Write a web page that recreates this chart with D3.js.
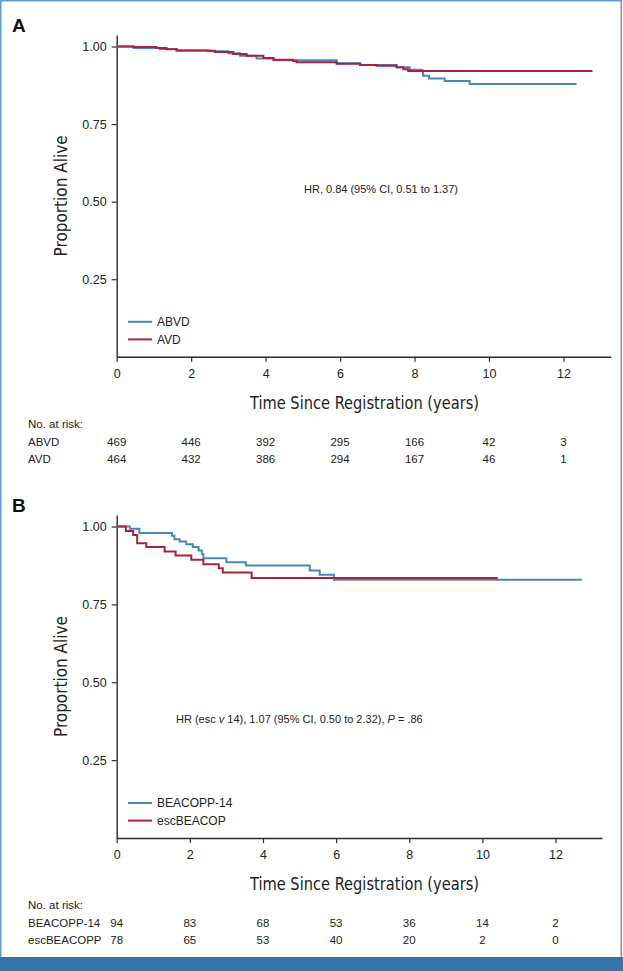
<!DOCTYPE html>
<html><head><meta charset="utf-8">
<script src="https://cdn.jsdelivr.net/npm/d3@7"></script>
<style>
html,body{margin:0;padding:0;background:#fff;}
svg{display:block;font-family:"Liberation Sans",Arial,sans-serif;}
</style></head>
<body><svg id="c" width="623" height="971"></svg>
<script>
// ---- Data ----
const xTicks = [0, 2, 4, 6, 8, 10, 12];
const yTicks = [0.25, 0.50, 0.75, 1.00];

// Panel A
const seriesA = ["ABVD", "AVD"];
const timeABVD = [0, 0.45, 1.16, 1.61, 2.5, 3.0, 3.31, 3.76, 4.21, 5.91, 6.54, 7.52, 7.87, 8.19, 8.23, 8.39, 8.81, 9.48, 12.35];
const survABVD = [1, 0.995, 0.992, 0.987, 0.985, 0.978, 0.970, 0.961, 0.956, 0.946, 0.940, 0.933, 0.925, 0.923, 0.906, 0.897, 0.889, 0.879, 0.879];
const timeAVD = [0, 0.45, 1.07, 1.34, 1.61, 2.42, 2.64, 3.13, 3.49, 3.94, 4.21, 4.74, 4.83, 5.91, 6.54, 6.98, 7.52, 7.70, 7.83, 12.78];
const survAVD = [1, 0.998, 0.995, 0.991, 0.987, 0.986, 0.982, 0.976, 0.970, 0.963, 0.957, 0.953, 0.949, 0.944, 0.940, 0.938, 0.933, 0.927, 0.921, 0.921];
const riskABVD = [469, 446, 392, 295, 166, 42, 3];
const riskAVD = [464, 432, 386, 294, 167, 46, 1];

// Panel B
const seriesB = ["BEACOPP-14", "escBEACOP"];
const riskLabelsB = ["BEACOPP-14", "escBEACOPP"];
const timeB14 = [0, 0.36, 0.62, 1.51, 1.58, 1.72, 1.90, 2.08, 2.24, 2.33, 2.37, 3.00, 3.53, 5.28, 5.55, 5.94, 12.72];
const survB14 = [1, 0.9925, 0.979, 0.970, 0.959, 0.952, 0.943, 0.934, 0.923, 0.912, 0.898, 0.885, 0.875, 0.859, 0.845, 0.829, 0.829];
const timeEsc = [0, 0.25, 0.45, 0.56, 0.81, 1.31, 1.61, 2.04, 2.37, 2.79, 2.90, 3.69, 10.42];
const survEsc = [1, 0.986, 0.973, 0.946, 0.934, 0.920, 0.907, 0.893, 0.879, 0.866, 0.852, 0.835, 0.835];
const riskB14 = [94, 83, 68, 53, 36, 14, 2];
const riskEsc = [78, 65, 53, 40, 20, 2, 0];

const BLUE = "#4a86bf", RED = "#a6233f", AX = "#2b2b2b";

const svg = d3.select("#c");

// frame + bottom bar
svg.append("rect").attr("x", 0.75).attr("y", 0.75).attr("width", 620.5).attr("height", 960)
  .attr("fill", "none").attr("stroke", "#5d9bd3").attr("stroke-width", 1.5);
svg.append("rect").attr("x", 0).attr("y", 957).attr("width", 623).attr("height", 14).attr("fill", "#3573a9");

function panel(cfg) {
  const g = svg.append("g");
  const x = d3.scaleLinear().domain([0, 13.27]).range([116.7, cfg.xEnd]);
  const y = d3.scaleLinear().domain([0, 1.037]).range([cfg.y0, cfg.yTop]);

  g.append("text").attr("x", 12).attr("y", cfg.letterY).text(cfg.letter)
    .attr("font-weight", "bold").attr("font-size", 19).attr("fill", "#111");

  const ya = g.append("g").attr("transform", `translate(${x(0)},0)`)
    .call(d3.axisLeft(y).tickValues(yTicks).tickFormat(d3.format(".2f")).tickSizeOuter(0).tickSizeInner(5).tickPadding(5));
  ya.select(".domain").attr("stroke", AX).attr("stroke-width", 1.4);
  ya.selectAll(".tick line").attr("stroke", AX).attr("stroke-width", 1.2);
  ya.selectAll(".tick text").attr("font-size", 12.5).attr("fill", "#222").attr("font-family", "Liberation Sans, Arial, sans-serif");

  const xa = g.append("g").attr("transform", `translate(0,${cfg.y0})`)
    .call(d3.axisBottom(x).tickValues(xTicks).tickFormat(d3.format("d")).tickSizeOuter(0).tickSizeInner(5).tickPadding(7));
  xa.select(".domain").attr("stroke", AX).attr("stroke-width", 1.4);
  xa.selectAll(".tick line").attr("stroke", AX).attr("stroke-width", 1.2);
  xa.selectAll(".tick text").attr("font-size", 12.5).attr("fill", "#222").attr("font-family", "Liberation Sans, Arial, sans-serif");

  g.append("text").attr("x", 364.5).attr("y", cfg.y0 + 46).attr("dy", "0.35em")
    .attr("text-anchor", "middle").attr("font-size", 18).attr("fill", "#222")
    .attr("font-family", "'Liberation Sans Narrow','DejaVu Sans Condensed',sans-serif")
    .attr("textLength", 229).attr("lengthAdjust", "spacingAndGlyphs")
    .text("Time Since Registration (years)");
  const ymid = (cfg.y0 + cfg.yTop) / 2;
  g.append("text").attr("transform", `translate(61,${ymid}) rotate(-90)`).attr("dy", "0.35em")
    .attr("text-anchor", "middle").attr("font-size", 18).attr("fill", "#222")
    .attr("font-family", "'Liberation Sans Narrow','DejaVu Sans Condensed',sans-serif")
    .attr("textLength", 121).attr("lengthAdjust", "spacingAndGlyphs")
    .text("Proportion Alive");

  const line = d3.line().x(d => x(d[0])).y(d => y(d[1])).curve(d3.curveStepAfter);
  cfg.curves.forEach(c => {
    const pts = c.t.map((t, i) => [t, c.s[i]]);
    g.append("path").attr("d", line(pts)).attr("fill", "none")
      .attr("stroke", c.color).attr("stroke-width", 2);
  });

  cfg.curves.forEach((c, i) => {
    const ly = cfg.y0 - 35 + i * 17.6;
    g.append("line").attr("x1", 128).attr("x2", 152).attr("y1", ly).attr("y2", ly)
      .attr("stroke", c.color).attr("stroke-width", 2);
    g.append("text").attr("x", 157).attr("y", ly).attr("dy", "0.35em")
      .attr("font-size", 12).attr("fill", "#222").text(c.name);
  });

  cfg.hr(g);

  const ry = cfg.y0 + 67;
  g.append("text").attr("x", 28).attr("y", ry).attr("dy", "0.35em").attr("font-size", 11.5)
    .attr("fill", "#222").text("No. at risk:");
  cfg.risk.forEach((r, i) => {
    const yy = ry + 17.8 + i * 17;
    g.append("text").attr("x", 28).attr("y", yy).attr("dy", "0.35em").attr("font-size", 11.5)
      .attr("fill", "#222").text(r.label);
    g.selectAll(null).data(r.values).enter().append("text")
      .attr("x", (d, j) => x(xTicks[j])).attr("y", yy).attr("dy", "0.35em")
      .attr("text-anchor", "middle").attr("font-size", 11.5).attr("fill", "#222").text(d => d);
  });
}

panel({
  letter: "A", letterY: 32, y0: 356.8, yTop: 35, xEnd: 610.7,
  curves: [
    { name: seriesA[0], t: timeABVD, s: survABVD, color: BLUE },
    { name: seriesA[1], t: timeAVD, s: survAVD, color: RED }
  ],
  hr: g => g.append("text").attr("x", 381).attr("y", 189.3).attr("dy", "0.35em")
    .attr("text-anchor", "middle").attr("font-size", 11.5).attr("fill", "#222")
    .attr("textLength", 154).attr("lengthAdjust", "spacingAndGlyphs")
    .text("HR, 0.84 (95% CI, 0.51 to 1.37)"),
  risk: [ { label: seriesA[0], values: riskABVD }, { label: seriesA[1], values: riskAVD } ]
});

panel({
  letter: "B", letterY: 512, y0: 838, yTop: 515, xEnd: 602,
  curves: [
    { name: seriesB[0], t: timeB14, s: survB14, color: BLUE },
    { name: seriesB[1], t: timeEsc, s: survEsc, color: RED }
  ],
  hr: g => {
    const t = g.append("text").attr("x", 176).attr("y", 719).attr("dy", "0.35em")
      .attr("font-size", 11).attr("fill", "#222");
    t.append("tspan").text("HR (esc ");
    t.append("tspan").attr("font-style", "italic").text("v");
    t.append("tspan").text(" 14), 1.07 (95% CI, 0.50 to 2.32), ");
    t.append("tspan").attr("font-style", "italic").text("P");
    t.append("tspan").text(" = .86");
  },
  risk: [ { label: riskLabelsB[0], values: riskB14 }, { label: riskLabelsB[1], values: riskEsc } ]
});
</script>
</body></html>
